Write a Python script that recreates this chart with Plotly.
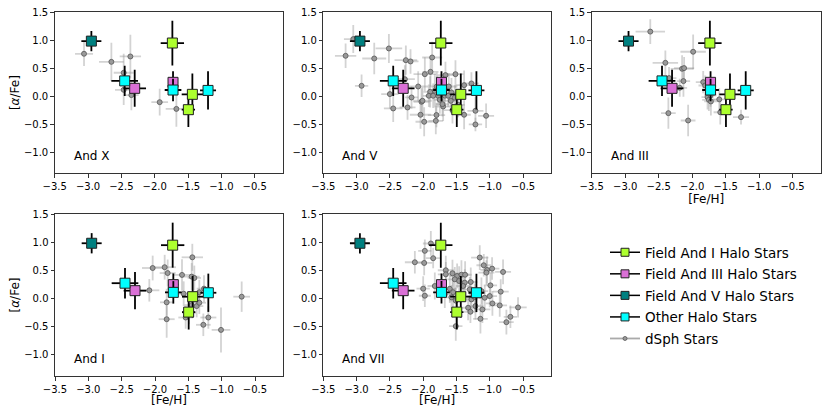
import plotly.graph_objects as go

# ---- halo stars (same in every panel) ----
fld1_feh = [-1.735, -1.435, -1.495]
fld1_alpha = [0.946, 0.03, -0.244]
fld1_feh_err = [0.175, 0.16, 0.10]
fld1_alpha_err = [0.40, 0.37, 0.31]

fld3_feh = [-1.725, -2.30]
fld3_alpha = [0.244, 0.137]
fld3_feh_err = [0.075, 0.17]
fld3_alpha_err = [0.20, 0.33]

fld5_feh = [-2.95]
fld5_alpha = [0.98]
fld5_feh_err = [0.15]
fld5_alpha_err = [0.18]

oth_feh = [-2.45, -1.725, -1.20]
oth_alpha = [0.27, 0.107, 0.10]
oth_feh_err = [0.20, 0.125, 0.12]
oth_alpha_err = [0.27, 0.20, 0.34]

# ---- dSph stars, one set per panel ----
andx_feh = [-3.06, -2.65, -2.365, -2.465, -2.465, -2.35, -1.925, -1.675]
andx_alpha = [0.754, 0.61, 0.706, 0.415, 0.11, 0.016, -0.11, -0.23]
andx_feh_err = [0.135, 0.185, 0.16, 0.15, 0.13, 0.11, 0.125, 0.16]
andx_alpha_err = [0.22, 0.34, 0.39, 0.34, 0.27, 0.27, 0.24, 0.32]

andv_feh = [-3.05, -3.165, -2.515, -2.735, -2.26, -2.19, -2.925, -2.275, -2.50, -2.45,
            -2.235, -2.175, -2.075, -2.025, -2.04, -1.985, -1.865, -1.975, -1.89, -1.81,
            -1.80, -1.895, -1.915, -1.85, -1.825, -1.775, -1.75, -1.70, -1.675, -1.615,
            -1.625, -1.585, -1.575, -1.515, -1.525, -1.56, -1.385, -1.275, -1.385, -1.215,
            -1.215, -1.055, -2.01, -1.71, -1.795, -1.665, -1.475]
andv_alpha = [1.016, 0.718, 0.849, 0.67, 0.64, 0.617, 0.182, 0.30, 0.034, -0.222,
              -0.204, -0.026, 0.17, -0.103, -0.335, -0.46, 0.688, 0.39, 0.432, -0.443,
              -0.34, 0.075, 0.004, 0.004, 0.093, 0.004, -0.068, -0.187, 0.004, 0.17,
              0.004, -0.086, 0.063, 0.39, -0.03, -0.252, 0.194, 0.224, -0.335, -0.264,
              -0.508, -0.353, -0.085, -0.145, 0.17, 0.373, -0.157]
andv_feh_err = [0.14, 0.16, 0.20, 0.18, 0.17, 0.12, 0.10, 0.15, 0.13, 0.14,
                0.12, 0.10, 0.15, 0.12, 0.16, 0.13, 0.15, 0.17, 0.12, 0.11,
                0.13, 0.10, 0.09, 0.12, 0.10, 0.11, 0.09, 0.12, 0.10, 0.13,
                0.09, 0.11, 0.10, 0.12, 0.10, 0.13, 0.12, 0.11, 0.10, 0.12,
                0.10, 0.12, 0.14, 0.10, 0.11, 0.12, 0.10]
andv_alpha_err = [0.25, 0.22, 0.26, 0.28, 0.26, 0.22, 0.20, 0.25, 0.26, 0.24,
                  0.22, 0.20, 0.27, 0.24, 0.25, 0.26, 0.28, 0.30, 0.26, 0.24,
                  0.22, 0.28, 0.20, 0.22, 0.30, 0.18, 0.25, 0.26, 0.22, 0.24,
                  0.20, 0.22, 0.26, 0.25, 0.22, 0.24, 0.26, 0.20, 0.26, 0.24,
                  0.12, 0.22, 0.24, 0.22, 0.25, 0.24, 0.22]

andiii_feh = [-2.625, -2.40, -2.345, -2.15, -2.12, -2.13, -1.985, -2.185, -2.355, -2.06,
              -1.835, -1.805, -1.77, -1.75, -1.72, -1.595, -1.58, -1.27, -1.725]
andiii_alpha = [1.15, 0.593, 0.32, 0.486, 0.498, 0.266, 0.79, 0.147, -0.306, -0.437,
                0.248, 0.188, -0.02, -0.068, -0.097, -0.06, -0.29, -0.377, 0.01]
andiii_feh_err = [0.22, 0.19, 0.11, 0.17, 0.15, 0.10, 0.19, 0.11, 0.11, 0.11,
                  0.11, 0.10, 0.09, 0.10, 0.10, 0.11, 0.10, 0.12, 0.09]
andiii_alpha_err = [0.22, 0.22, 0.20, 0.24, 0.20, 0.28, 0.31, 0.16, 0.28, 0.28,
                    0.20, 0.18, 0.22, 0.20, 0.25, 0.20, 0.22, 0.13, 0.20]

andi_feh = [-2.085, -2.035, -1.855, -1.81, -1.825, -1.825, -1.595, -1.57, -1.54, -1.44,
            -1.45, -1.41, -1.45, -1.375, -1.335, -1.265, -1.20, -1.275, -1.01, -0.70,
            -1.335, -1.49]
andi_alpha = [0.143, 0.54, 0.554, 0.45, -0.07, -0.37, 0.417, 0.083, -0.34, 0.73,
              0.387, 0.363, -0.12, -0.137, -0.077, 0.173, -0.34, -0.47, -0.56, 0.03,
              0.11, -0.26]
andi_feh_err = [0.15, 0.16, 0.17, 0.12, 0.10, 0.12, 0.12, 0.11, 0.11, 0.16,
                0.12, 0.10, 0.11, 0.10, 0.10, 0.11, 0.12, 0.11, 0.14, 0.125,
                0.10, 0.10]
andi_alpha_err = [0.20, 0.22, 0.22, 0.24, 0.24, 0.33, 0.28, 0.22, 0.20, 0.24,
                  0.24, 0.22, 0.22, 0.20, 0.20, 0.24, 0.20, 0.20, 0.40, 0.27,
                  0.22, 0.20]

andvii_feh = [-1.885, -1.975, -1.85, -2.125, -1.985, -2.0, -1.975, -1.825, -1.66, -1.56,
              -1.49, -1.425, -1.37, -1.525, -1.46, -1.375, -1.60, -1.55, -1.575, -1.51,
              -1.40, -1.30, -1.285, -1.275, -1.325, -1.29, -1.215, -1.15, -1.09, -1.04,
              -1.05, -0.965, -0.80, -1.125, -1.075, -1.0, -0.99, -1.11, -1.14, -0.96,
              -0.85, -0.835, -0.575, -0.69, -0.75, -1.51, -1.675, -1.66, -1.225]
andvii_alpha = [0.976, 0.845, 0.714, 0.642, 0.63, 0.172, 0.047, 0.22, 0.50, 0.446,
                0.398, 0.42, 0.42, 0.339, 0.309, 0.279, 0.17, 0.11, 0.02, -0.04,
                0.22, 0.16, 0.291, -0.018, -0.167, -0.238, -0.137, 0.726, 0.589, 0.506,
                0.458, 0.529, 0.47, 0.13, 0.011, 0.041, 0.232, -0.197, -0.363, -0.09,
                -0.125, 0.119, -0.161, -0.328, -0.423, -0.494, 0.071, 0.428, 0.024]
andvii_feh_err = [0.12, 0.10, 0.11, 0.15, 0.12, 0.10, 0.09, 0.11, 0.12, 0.10,
                  0.11, 0.12, 0.10, 0.11, 0.09, 0.12, 0.10, 0.11, 0.09, 0.10,
                  0.11, 0.12, 0.10, 0.09, 0.11, 0.10, 0.12, 0.13, 0.11, 0.10,
                  0.12, 0.11, 0.12, 0.10, 0.09, 0.11, 0.10, 0.12, 0.11, 0.10,
                  0.11, 0.12, 0.13, 0.10, 0.11, 0.10, 0.10, 0.12, 0.10]
andvii_alpha_err = [0.22, 0.20, 0.18, 0.20, 0.22, 0.22, 0.20, 0.24, 0.26, 0.24,
                    0.22, 0.26, 0.24, 0.22, 0.26, 0.24, 0.25, 0.26, 0.22, 0.24,
                    0.25, 0.22, 0.26, 0.24, 0.22, 0.20, 0.24, 0.22, 0.20, 0.24,
                    0.22, 0.20, 0.22, 0.24, 0.22, 0.20, 0.22, 0.24, 0.26, 0.22,
                    0.20, 0.22, 0.18, 0.20, 0.22, 0.26, 0.24, 0.22, 0.24]

panel_names = ["And X", "And V", "And III", "And I", "And VII"]
panel_feh = [andx_feh, andv_feh, andiii_feh, andi_feh, andvii_feh]
panel_alpha = [andx_alpha, andv_alpha, andiii_alpha, andi_alpha, andvii_alpha]
panel_feh_err = [andx_feh_err, andv_feh_err, andiii_feh_err, andi_feh_err, andvii_feh_err]
panel_alpha_err = [andx_alpha_err, andv_alpha_err, andiii_alpha_err, andi_alpha_err, andvii_alpha_err]

halo_sets = [
    ("Field And I Halo Stars", "#ADFF2F", fld1_feh, fld1_alpha, fld1_feh_err, fld1_alpha_err),
    ("Field And III Halo Stars", "#DA70D6", fld3_feh, fld3_alpha, fld3_feh_err, fld3_alpha_err),
    ("Field And V Halo Stars", "#008080", fld5_feh, fld5_alpha, fld5_feh_err, fld5_alpha_err),
    ("Other Halo Stars", "#00FFFF", oth_feh, oth_alpha, oth_feh_err, oth_alpha_err),
]

FONT = "DejaVu Sans"
fig = go.Figure()

# the page body keeps an 8px margin, so the figure is a little smaller than the window
OFF = 8
W, H = 830 - 2 * OFF, 415 - 2 * OFF
# panel boxes in window pixels (left, right, top, bottom)
boxes = [
    (54.7, 282.7, 12, 173.3),
    (323.3, 551.0, 12, 173.3),
    (591.7, 820.7, 12, 173.3),
    (55.0, 283.0, 214, 376),
    (323.3, 551.0, 214, 376),
]
show_xtitle = [False, False, True, True, True]
show_ytitle = [True, False, False, True, False]

xticks = [-3.5, -3.0, -2.5, -2.0, -1.5, -1.0, -0.5]
yticks = [-1.0, -0.5, 0.0, 0.5, 1.0, 1.5]


def lab(v):
    return f"{v:.1f}".replace("-", "\u2212")


for i in range(5):
    sfx = "" if i == 0 else str(i + 1)
    xa, ya = "x" + sfx, "y" + sfx
    fig.add_trace(go.Scatter(
        x=panel_feh[i], y=panel_alpha[i], mode="markers", xaxis=xa, yaxis=ya,
        error_x=dict(type="data", array=panel_feh_err[i], color="rgba(150,150,150,0.42)",
                     thickness=1.8, width=0),
        error_y=dict(type="data", array=panel_alpha_err[i], color="rgba(150,150,150,0.42)",
                     thickness=1.8, width=0),
        marker=dict(symbol="circle", size=5, color="#9a9a9a",
                    line=dict(color="#555555", width=0.8)),
        showlegend=False))
    for name, col, fx, fy, ex, ey in halo_sets:
        fig.add_trace(go.Scatter(
            x=fx, y=fy, mode="markers", xaxis=xa, yaxis=ya,
            error_x=dict(type="data", array=ex, color="black", thickness=1.8, width=0),
            error_y=dict(type="data", array=ey, color="black", thickness=1.8, width=0),
            marker=dict(symbol="square", size=10, color=col,
                        line=dict(color="#222222", width=1)),
            showlegend=False))

    x0, x1, y0, y1 = boxes[i]
    axis_common = dict(showline=True, mirror=True, linecolor="#333333", linewidth=1,
                       ticks="outside", ticklen=3.5, tickcolor="#333333",
                       showgrid=False, zeroline=False, automargin=False,
                       autorange=False, ticklabeloverflow="allow",
                       tickfont=dict(family=FONT, size=10, color="black"))
    fig.layout["xaxis" + sfx] = dict(
        domain=[(x0 - OFF) / W, (x1 - OFF) / W], anchor=ya, range=[-3.5, -0.08],
        tickvals=xticks, ticktext=[lab(v) for v in xticks],
        title=dict(text="[Fe/H]" if show_xtitle[i] else "", standoff=1,
                   font=dict(family=FONT, size=12, color="black")),
        **axis_common)
    fig.layout["yaxis" + sfx] = dict(
        domain=[1 - (y1 - OFF) / H, 1 - (y0 - OFF) / H], anchor=xa, range=[-1.38, 1.5],
        tickvals=yticks, ticktext=[lab(v) for v in yticks],
        title=dict(text="[<i>α</i>/Fe]" if show_ytitle[i] else "", standoff=6,
                   font=dict(family=FONT, size=12, color="black")),
        **axis_common)
    fig.add_annotation(text=panel_names[i], xref=xa + " domain", yref=ya + " domain",
                       x=0.075, y=0.107, xanchor="left", yanchor="middle",
                       showarrow=False, font=dict(family=FONT, size=12, color="black"))

# legend entries
for name, col, *_rest in halo_sets:
    fig.add_trace(go.Scatter(
        x=[None], y=[None], mode="lines+markers", name=name, legendgroup=name,
        line=dict(color="black", width=1.5),
        marker=dict(symbol="square", size=8, color=col, line=dict(color="#222222", width=1))))
fig.add_trace(go.Scatter(
    x=[None], y=[None], mode="lines+markers", name="dSph Stars", legendgroup="dsph",
    line=dict(color="#aaaaaa", width=1.8),
    marker=dict(symbol="circle", size=4, color="#9a9a9a", line=dict(color="#555555", width=0.8))))

fig.update_layout(
    width=W, height=H, margin=dict(l=0, r=0, t=0, b=0, autoexpand=False),
    paper_bgcolor="white", plot_bgcolor="white",
    font=dict(family=FONT, size=12, color="black"),
    legend=dict(x=(605 - OFF) / W, y=1 - (237 - OFF) / H, xanchor="left", yanchor="top",
                font=dict(family=FONT, size=13.5, color="black"),
                tracegroupgap=1, itemwidth=30, bgcolor="rgba(0,0,0,0)"),
)

fig.write_html("out.html")
